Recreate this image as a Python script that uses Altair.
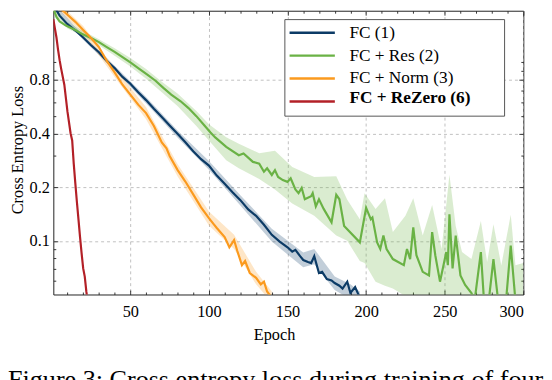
import altair as alt
import pandas as pd

# ---------------- data ----------------
series_names = ["FC (1)", "FC + Res (2)", "FC + Norm (3)", "FC + ReZero (6)"]
line_colors = ["#0C3B66", "#6AB245", "#FB9A1E", "#B32027"]

fc_epoch = [1, 5, 10, 15, 20, 25, 30, 35, 40, 45, 50, 55, 60, 65, 70, 75, 80, 85, 90, 95,
            100, 105, 110, 115, 120, 125, 130, 135, 140, 145, 150, 153, 155, 158, 160, 163,
            165, 167, 170, 172, 175, 178, 180, 183, 185, 188, 190, 193, 196]
fc_loss = [2.10, 1.83, 1.64, 1.51, 1.38, 1.25, 1.14, 1.02, 0.93, 0.83, 0.76, 0.68, 0.615,
           0.55, 0.495, 0.443, 0.398, 0.357, 0.318, 0.287, 0.264, 0.232, 0.209, 0.187, 0.169,
           0.150, 0.138, 0.123, 0.108, 0.099, 0.092, 0.087, 0.089, 0.082, 0.078, 0.076, 0.075,
           0.082, 0.066, 0.067, 0.061, 0.060, 0.058, 0.056, 0.054, 0.059, 0.051, 0.055, 0.048]

res_epoch = [1, 3, 5, 9, 15, 19, 25, 30, 35, 40, 45, 50, 55, 61, 66, 71, 76, 82, 87, 92,
             97, 101, 104, 111, 119, 122, 128, 132, 135, 137, 140, 142, 144, 147, 150, 152,
             155, 157, 159, 161, 165, 166, 168, 170, 173, 178, 181, 183, 186, 196, 200, 203,
             204, 207, 209, 211, 213, 217, 224, 226, 228, 230, 232, 236, 240, 242, 244, 247,
             251, 252, 253, 255, 257, 260, 263, 267, 269, 273, 275, 278, 281, 284, 289, 292,
             295, 300]
res_loss = [2.0, 1.8, 1.7, 1.61, 1.52, 1.45, 1.37, 1.30, 1.22, 1.146, 1.07, 1.0, 0.93, 0.853,
            0.79, 0.72, 0.66, 0.606, 0.555, 0.50, 0.445, 0.405, 0.38, 0.336, 0.302, 0.309,
            0.277, 0.271, 0.244, 0.255, 0.234, 0.249, 0.228, 0.219, 0.214, 0.224, 0.194, 0.185,
            0.198, 0.171, 0.178, 0.185, 0.156, 0.171, 0.151, 0.127, 0.181, 0.171, 0.121, 0.098,
            0.153, 0.132, 0.135, 0.098, 0.090, 0.107, 0.090, 0.079, 0.073, 0.090, 0.079, 0.119,
            0.083, 0.067, 0.064, 0.112, 0.083, 0.059, 0.0865, 0.073, 0.141, 0.070, 0.107, 0.064,
            0.0565, 0.051, 0.046, 0.0865, 0.046, 0.046, 0.079, 0.046, 0.046, 0.094, 0.046, 0.046]

norm_epoch = [1, 5, 10, 15, 20, 25, 30, 35, 40, 45, 50, 55, 60, 65, 70, 73, 75, 80, 85, 90,
              95, 100, 103, 105, 110, 113, 116, 118, 121, 123, 126, 130, 133, 135, 137, 140]
norm_loss = [2.2, 2.03, 1.85, 1.69, 1.52, 1.37, 1.22, 1.02, 0.88, 0.75, 0.66, 0.58, 0.52, 0.44,
             0.356, 0.33, 0.299, 0.250, 0.215, 0.182, 0.154, 0.134, 0.124, 0.118, 0.105, 0.092,
             0.101, 0.088, 0.073, 0.077, 0.066, 0.062, 0.057, 0.059, 0.052, 0.048]

rez_epoch = [1, 2, 3, 4, 5, 6, 8, 10, 12, 13, 14, 15, 16, 17, 18, 19, 20, 21, 22, 23]
rez_loss = [1.75, 1.55, 1.38, 1.18, 1.03, 0.92, 0.75, 0.53, 0.40, 0.365, 0.27, 0.21, 0.165,
            0.132, 0.105, 0.085, 0.07, 0.063, 0.052, 0.045]

# shaded spread around the curves
fc_band_epoch = [1, 20, 40, 60, 80, 100, 120, 140, 160, 167, 180, 190, 196]
fc_band_lo = [2.04, 1.34, 0.90, 0.59, 0.38, 0.25, 0.158, 0.099, 0.071, 0.074, 0.053, 0.047, 0.045]
fc_band_hi = [2.16, 1.42, 0.96, 0.64, 0.415, 0.28, 0.18, 0.117, 0.086, 0.09, 0.063, 0.057, 0.052]

res_band_epoch = [1, 10, 20, 30, 40, 50, 60, 70, 80, 92, 100, 111, 119, 132, 142, 153, 167, 181,
                  188, 196, 199, 206, 212, 217, 225, 230, 236, 242, 248, 253, 257, 261, 267,
                  273, 277, 281, 286, 292, 295, 300]
res_band_lo = [1.93, 1.55, 1.40, 1.25, 1.09, 0.95, 0.81, 0.68, 0.57, 0.44, 0.365, 0.283, 0.255,
               0.222, 0.194, 0.162, 0.138, 0.107, 0.10, 0.077, 0.075, 0.059, 0.056, 0.054, 0.049,
               0.046, 0.046, 0.046, 0.046, 0.046, 0.046, 0.046, 0.046, 0.046, 0.046, 0.046,
               0.046, 0.046, 0.046, 0.046]
res_band_hi = [2.07, 1.68, 1.50, 1.35, 1.20, 1.06, 0.92, 0.78, 0.67, 0.534, 0.45, 0.381, 0.35,
               0.31, 0.32, 0.259, 0.228, 0.23, 0.17, 0.132, 0.185, 0.151, 0.173, 0.112, 0.138,
               0.173, 0.107, 0.159, 0.09, 0.235, 0.121, 0.0865, 0.079, 0.129, 0.076, 0.124,
               0.0728, 0.14, 0.073, 0.075]

norm_band_epoch = [1, 20, 40, 60, 80, 100, 116, 130, 140]
norm_band_lo = [2.1, 1.45, 0.83, 0.48, 0.23, 0.122, 0.09, 0.057, 0.045]
norm_band_hi = [2.3, 1.6, 0.93, 0.56, 0.27, 0.146, 0.108, 0.067, 0.052]

x_major = [50, 100, 150, 200, 250, 300]
x_minor = [10, 20, 30, 40, 60, 70, 80, 90, 110, 120, 130, 140, 160, 170, 180, 190,
           210, 220, 230, 240, 260, 270, 280, 290]
y_major = [0.1, 0.2, 0.4, 0.8]
y_minor = [0.06, 0.07, 0.08, 0.09, 0.3, 0.5, 0.6, 0.7, 0.9, 1.0]

caption = "Figure 3: Cross entropy loss during training of four"

# ---------------- tables ----------------
lines_df = pd.concat([
    pd.DataFrame({"series": series_names[0], "epoch": fc_epoch, "loss": fc_loss}),
    pd.DataFrame({"series": series_names[1], "epoch": res_epoch, "loss": res_loss}),
    pd.DataFrame({"series": series_names[2], "epoch": norm_epoch, "loss": norm_loss}),
    pd.DataFrame({"series": series_names[3], "epoch": rez_epoch, "loss": rez_loss}),
], ignore_index=True)
rez_df = lines_df[lines_df["series"] == series_names[3]]

band_df = pd.concat([
    pd.DataFrame({"series": series_names[0], "epoch": fc_band_epoch, "lo": fc_band_lo, "hi": fc_band_hi}),
    pd.DataFrame({"series": series_names[1], "epoch": res_band_epoch, "lo": res_band_lo, "hi": res_band_hi}),
    pd.DataFrame({"series": series_names[2], "epoch": norm_band_epoch, "lo": norm_band_lo, "hi": norm_band_hi}),
], ignore_index=True)

# ---------------- chart ----------------
W, H = 477, 288
FONT = "Liberation Serif"
x_scale = alt.Scale(domain=[1, 300], nice=False, zero=False)
y_scale = alt.Scale(type="log", domain=[0.05, 1.95], nice=False)


def tick_axis(orient, values, size, offset):
    return alt.Axis(orient=orient, values=values, offset=offset, labels=False, grid=False,
                    domain=False, ticks=True, tickSize=size, tickColor="#222222",
                    tickWidth=0.9, title=None)


bands = alt.Chart(band_df).mark_area(clip=True, opacity=0.25).encode(
    x=alt.X("epoch:Q", scale=x_scale, axis=alt.Axis(
        orient="bottom", values=x_major, format="d", title="Epoch", grid=True,
        gridDash=[3, 3], gridColor="#b0b0b0", gridWidth=0.8, ticks=False, tickSize=0,
        domain=False, labelFont=FONT, labelFontSize=16.5, labelColor="black", labelPadding=9,
        titleFont=FONT, titleFontSize=16.5, titleFontWeight="normal", titleColor="black",
        titleX=224, titleY=46, titleBaseline="alphabetic")),
    y=alt.Y("lo:Q", scale=y_scale, axis=alt.Axis(
        orient="left", values=y_major, format=".1f", title="Cross Entropy Loss", grid=True,
        gridDash=[3, 3], gridColor="#b0b0b0", gridWidth=0.8, ticks=False, tickSize=0,
        domain=False, labelFont=FONT, labelFontSize=16.5, labelColor="black", labelPadding=4,
        titleFont=FONT, titleFontSize=16.5, titleFontWeight="normal", titleColor="black",
        titleX=-31, titleY=141, titleAngle=270, titleAlign="center",
        titleBaseline="alphabetic")),
    y2="hi:Q",
    fill=alt.Fill("series:N", scale=alt.Scale(domain=series_names, range=line_colors),
                  legend=None),
)

legend_common = dict(
    title=None, orient="none", legendX=234.5, symbolType="M-4,0H4", symbolSize=132,
    symbolStrokeWidth=2.5, labelFont=FONT, labelFontSize=17.5, labelColor="black",
    labelLimit=400, cornerRadius=0, padding=5, rowPadding=4.3, symbolOffset=14.5,
    labelOffset=29,
)

# The boxed legend leaves its 4th label empty (the bold one is overlaid by a 2nd legend);
# the first label carries trailing blank space so the box is as wide as in the reference
# (a zero-width space at the end keeps the em spaces from being trimmed).
pad = "\u2003" * 6 + "\u200b"
lines = alt.Chart(lines_df).mark_line(clip=True, strokeWidth=2.2).encode(
    x=alt.X("epoch:Q", scale=x_scale, axis=tick_axis("top", x_major, 4.5, -H)),
    y=alt.Y("loss:Q", scale=y_scale, axis=tick_axis("right", y_major, 4.5, -W)),
    color=alt.Color("series:N", scale=alt.Scale(domain=series_names, range=line_colors),
                    legend=alt.Legend(
                        legendY=8.5, fillColor="white", strokeColor="#555555",
                        labelExpr=("datum.value == 'FC + ReZero (6)' ? '' : "
                                   "(datum.value == 'FC (1)' ? datum.label + '" + pad +
                                   "' : datum.label)"),
                        **legend_common)),
)

# invisible copy of the ReZero curve: carries the bold legend label and tick axes
rez_ghost = alt.Chart(rez_df).mark_line(clip=True, opacity=0).encode(
    x=alt.X("epoch:Q", scale=x_scale, axis=tick_axis("bottom", x_major, 4.5, -H)),
    y=alt.Y("loss:Q", scale=y_scale, axis=tick_axis("left", y_major, 4.5, -W)),
    color=alt.Color("series:N", scale=alt.Scale(domain=[series_names[3]], range=[line_colors[3]]),
                    legend=alt.Legend(legendY=74.6, labelFontWeight="bold", symbolOpacity=0,
                                      **legend_common)),
)

ghost = alt.Chart(rez_df).mark_line(clip=True, opacity=0)
g2 = ghost.encode(
    x=alt.X("epoch:Q", scale=x_scale, axis=tick_axis("top", x_minor, 2.5, -H)),
    y=alt.Y("loss:Q", scale=y_scale, axis=tick_axis("right", y_minor, 2.5, -W)),
)
g3 = ghost.encode(
    x=alt.X("epoch:Q", scale=x_scale, axis=tick_axis("bottom", x_minor, 2.5, -H)),
    y=alt.Y("loss:Q", scale=y_scale, axis=tick_axis("left", y_minor, 2.5, -W)),
)

chart = alt.layer(bands, lines, rez_ghost, g2, g3).resolve_axis(
    x="independent", y="independent"
).resolve_scale(color="independent").properties(
    width=W, height=H,
    title=alt.TitleParams(caption, orient="bottom", anchor="start", frame="group",
                          font=FONT, fontSize=26.5, fontWeight="normal", color="black",
                          offset=24, dx=-46),
    padding={"left": 46, "top": 0, "right": 21, "bottom": 84},
    autosize=alt.AutoSizeParams(type="none"),
).configure(
    background="white",
    font=FONT,
    style={"guide-label": {"font": FONT}, "guide-title": {"font": FONT}},
).configure_view(
    stroke="#222222", strokeWidth=1
).configure_axis(
    labelFont=FONT, titleFont=FONT
).configure_legend(
    labelFont=FONT
).configure_title(
    font=FONT
)

chart.save("out.html", embed_options={"renderer": "svg", "actions": False})
